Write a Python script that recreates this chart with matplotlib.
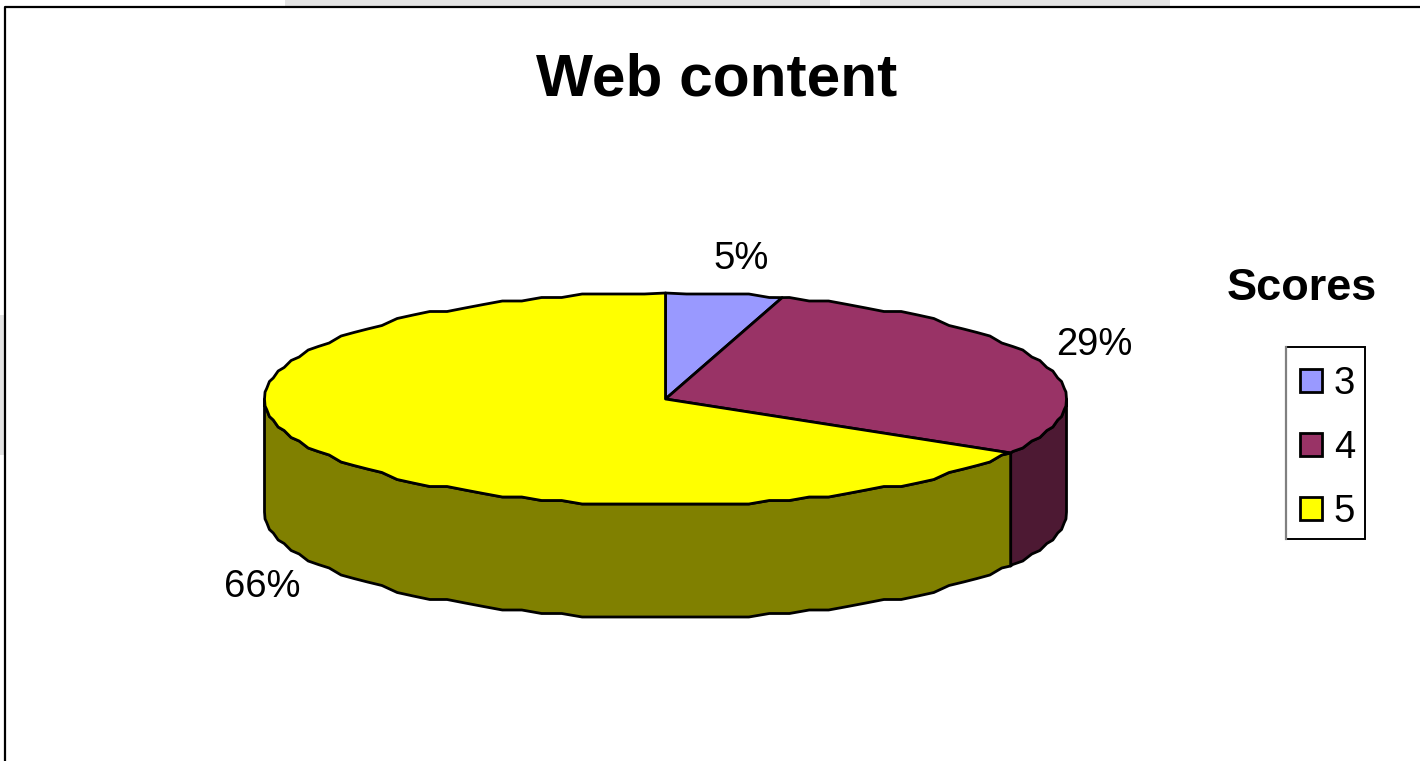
import numpy as np
import matplotlib
matplotlib.use('Agg')
import matplotlib.pyplot as plt
from matplotlib.patches import Rectangle, Polygon

plt.rcParams['font.family'] = ['Liberation Sans', 'DejaVu Sans']

# Data
scores = ['3', '4', '5']
shares = [4.7, 28.8, 66.5]
share_labels = ['5%', '29%', '66%']

top_colors = ['#9999ff', '#993366', '#ffff00']
side_colors = ['#4c4c80', '#4d1933', '#808000']

# pie geometry in pixels
cx, cy = 665.5, 399
rx, ry = 401, 106
depth = 113


def rim(a0, a1, drop=0):
    # a is degrees clockwise from 12 o'clock, rim is stepped like the original
    # same angle grid for every piece so top face and wall share their outline
    inner = np.arange(np.ceil(a0 / 3) * 3, a1, 3.0)
    inner = inner[inner > a0]
    a = np.radians(inner)
    x = cx + rx * np.sin(a)
    y = np.round((cy - ry * np.cos(a)) / 3.5) * 3.5
    ends = np.radians([a0, a1])
    first = [cx + rx * np.sin(ends[0]), cy - ry * np.cos(ends[0])]
    last = [cx + rx * np.sin(ends[1]), cy - ry * np.cos(ends[1])]
    pts = np.vstack([first, np.column_stack([x, y]), last])
    pts[:, 1] += drop
    return pts


fig = plt.figure(figsize=(14.2, 7.61), dpi=100)
ax = fig.add_axes([0, 0, 1, 1])
ax.set_xlim(0, 1420)
ax.set_ylim(761, 0)
ax.axis('off')

# grey slide background peeking out around the chart
for x0, x1, y0, y1 in [(285, 830, 0, 7), (860, 1170, 0, 7), (0, 5, 315, 455)]:
    ax.add_patch(Rectangle((x0, y0), x1 - x0, y1 - y0, fc='#e3e3e3', ec='none'))

# chart frame
ax.plot([5, 5, 1420], [761, 6.5, 6.5], color='black', lw=1.6)

edges = np.concatenate([[0], np.cumsum(shares)]) * 3.6

# side wall, only the front half of the pie shows it
for i in range(len(shares)):
    a0, a1 = max(edges[i], 90), min(edges[i + 1], 270)
    if a1 <= a0:
        continue
    top = rim(a0, a1)
    low = rim(a0, a1, depth)
    ax.add_patch(Polygon(np.vstack([top, low[::-1]]), closed=True, fc=side_colors[i],
                         ec='black', lw=2, joinstyle='round', zorder=2))

# top face
for i in range(len(shares)):
    pts = np.vstack([[cx, cy], rim(edges[i], edges[i + 1])])
    ax.add_patch(Polygon(pts, closed=True, fc=top_colors[i], ec='black', lw=2,
                         joinstyle='round', zorder=3))

# texts
ax.text(717, 95, 'Web content', fontsize=43.5, fontweight='bold', ha='center', va='baseline')
ax.text(741, 269, share_labels[0], fontsize=27.5, ha='center', va='baseline')
ax.text(1094, 355, share_labels[1], fontsize=27.5, ha='center', va='baseline')
ax.text(262, 597, share_labels[2], fontsize=27.5, ha='center', va='baseline')
ax.text(1302, 300, 'Scores', fontsize=32.5, fontweight='bold', ha='center', va='baseline')

# legend box, left side drawn grey and heavier as in the original
ax.add_patch(Rectangle((1286, 347), 79, 192, fc='white', ec='black', lw=1.4, zorder=4))
ax.plot([1286, 1286], [347, 539], color='#808080', lw=1.6, zorder=5)

handles = [Rectangle((0, 0), 1, 1, fc=c, ec='black', lw=2) for c in top_colors]
leg = ax.legend(handles, scores, loc='upper left', bbox_to_anchor=(1281, 347),
                bbox_transform=ax.transData, borderaxespad=0, fontsize=27.5,
                handlelength=0.58, handleheight=0.58, handletextpad=0.3,
                labelspacing=0.73, borderpad=0.5, frameon=False)
leg.set_zorder(6)

plt.savefig('out.png', dpi=100)
